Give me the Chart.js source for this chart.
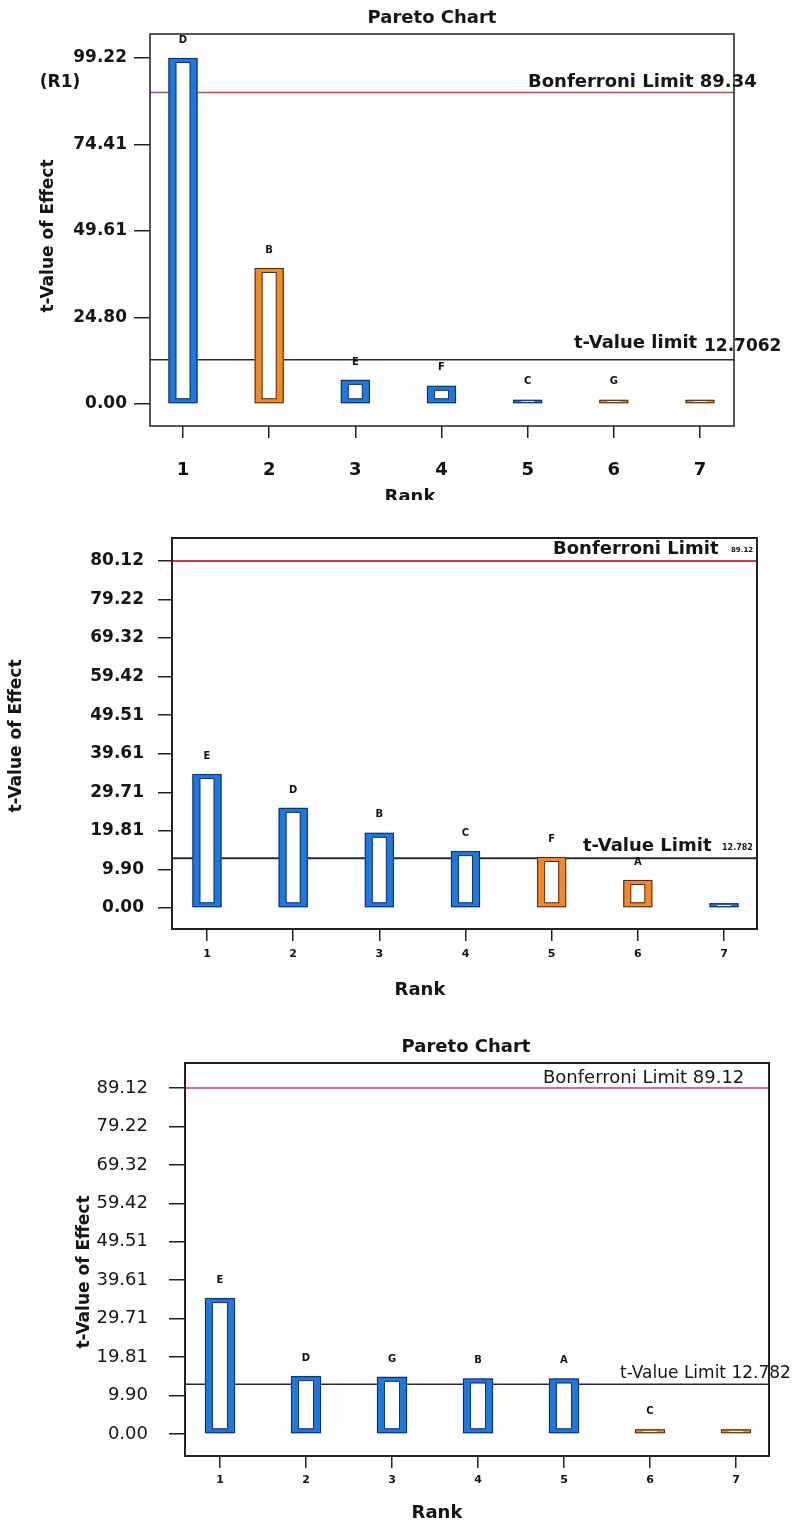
<!DOCTYPE html>
<html>
<head>
<meta charset="utf-8">
<script src="https://cdn.jsdelivr.net/npm/chart.js@4.4.1/dist/chart.umd.min.js"></script>
<style>
  html, body { margin: 0; padding: 0; background: #fff; }
  body { width: 810px; height: 1523px; position: relative; overflow: hidden; }
  canvas { position: absolute; left: 0; }
  #c1 { top: 0; }
  #c2 { top: 500px; }
  #c3 { top: 1015px; }
</style>
</head>
<body>
<canvas id="c1" width="810" height="500"></canvas>
<canvas id="c2" width="810" height="515"></canvas>
<canvas id="c3" width="810" height="508"></canvas>
<script>
// Rank no eixo x (igual nos 3 gráficos)
const ranks = [1, 2, 3, 4, 5, 6, 7];

// Gráfico 1 (R1)
const efeitos1 = ['D', 'B', 'E', 'F', 'C', 'G', ''];
const tval1    = [99.22, 39.0, 6.9, 5.2, 1.2, 1.2, 1.2];
const sinal1   = ['+', '-', '+', '+', '+', '-', '-'];
const yTicks1  = [0, 24.80, 49.61, 74.41, 99.22];
const yLabels1 = ['0.00', '24.80', '49.61', '74.41', '99.22'];
const bonf1 = 89.34, tlim1 = 12.7062;

// Gráfico 2
const efeitos2 = ['E', 'D', 'B', 'C', 'F', 'A', ''];
const tval2    = [34.4, 25.7, 19.3, 14.6, 13.1, 7.2, 1.2];
const sinal2   = ['+', '+', '+', '+', '-', '-', '+'];
const yTicks2  = [0, 9.90, 19.81, 29.71, 39.61, 49.51, 59.42, 69.32, 79.22, 89.12];
const yLabels2 = ['0.00', '9.90', '19.81', '29.71', '39.61', '49.51', '59.42', '69.32', '79.22', '80.12'];
const bonf2 = 89.12, tlim2 = 12.782;

// Gráfico 3
const efeitos3 = ['E', 'D', 'G', 'B', 'A', 'C', ''];
const tval3    = [35.0, 14.9, 14.7, 14.3, 14.3, 1.2, 1.2];
const sinal3   = ['+', '+', '+', '+', '+', '-', '-'];
const yTicks3  = [0, 9.90, 19.81, 29.71, 39.61, 49.51, 59.42, 69.32, 79.22, 89.12];
const yLabels3 = ['0.00', '9.90', '19.81', '29.71', '39.61', '49.51', '59.42', '69.32', '79.22', '89.12'];
const bonf3 = 89.12, tlim3 = 12.782;

const AZUL = '#1f78e0', LARANJA = '#f5891f';
const FONTE = "'DejaVu Sans', 'Liberation Sans', sans-serif";
const BORDA = { left: 8, right: 8, top: 5, bottom: 5 };

// plugin: linhas de limite, contornos, letras, moldura e textos
const enfeites = {
  id: 'enfeites',
  beforeDatasetsDraw(chart, args, o) {
    const { ctx, chartArea: a, scales: { y } } = chart;
    ctx.save();
    const yb = y.getPixelForValue(o.bonf);
    ctx.strokeStyle = o.corBonf; ctx.lineWidth = o.lwBonf;
    ctx.beginPath(); ctx.moveTo(a.left, yb); ctx.lineTo(a.right, yb); ctx.stroke();
    const yt = y.getPixelForValue(o.tlim);
    ctx.strokeStyle = o.corT; ctx.lineWidth = o.lwT;
    ctx.beginPath(); ctx.moveTo(a.left, yt); ctx.lineTo(a.right, yt); ctx.stroke();
    ctx.restore();
  },
  afterDatasetsDraw(chart, args, o) {
    const { ctx, chartArea: a } = chart;
    ctx.save();
    // contorno escuro das barras
    const meta = chart.getDatasetMeta(0);
    ctx.strokeStyle = 'rgba(20,30,55,0.85)';
    ctx.lineWidth = 1;
    meta.data.forEach((bar, i) => {
      const p = bar.getProps(['x', 'y', 'base', 'width'], true);
      const l = p.x - p.width / 2, t = Math.min(p.y, p.base), h = Math.abs(p.base - p.y);
      ctx.strokeRect(l + 0.5, t + 0.5, p.width - 1, h - 1);
      if (h > BORDA.top + BORDA.bottom + 2) {
        ctx.strokeRect(l + BORDA.left - 0.5, t + BORDA.top - 0.5,
                       p.width - BORDA.left - BORDA.right + 1, h - BORDA.top - BORDA.bottom + 1);
      }
      // letra do efeito
      ctx.fillStyle = '#111';
      ctx.font = 'bold 10px ' + FONTE;
      ctx.textAlign = 'center'; ctx.textBaseline = 'middle';
      ctx.fillText(o.letras[i], p.x, t - 18);
    });
    // moldura
    ctx.strokeStyle = '#222'; ctx.lineWidth = o.lwMoldura;
    ctx.strokeRect(a.left, a.top, a.width, a.height);
    // textos
    ctx.fillStyle = '#151515';
    o.textos.forEach(tx => {
      ctx.save();
      ctx.font = tx.f + ' ' + FONTE;
      ctx.textAlign = tx.align || 'left';
      ctx.textBaseline = 'middle';
      ctx.translate(tx.x, tx.y);
      if (tx.rot) ctx.rotate(-Math.PI / 2);
      ctx.fillText(tx.t, 0, 0);
      ctx.restore();
    });
    ctx.restore();
  }
};

function criarPareto(id, d) {
  const cv = document.getElementById(id);
  const H = cv.height;
  return new Chart(cv, {
    type: 'bar',
    data: {
      datasets: [{
        data: ranks.map((r, i) => ({ x: r, y: d.vals[i] })),
        backgroundColor: '#fff',
        borderColor: d.sinais.map(s => s === '+' ? AZUL : LARANJA),
        borderWidth: BORDA,
        borderSkipped: false,
        barThickness: d.barra
      }]
    },
    plugins: [enfeites],
    options: {
      responsive: false,
      animation: false,
      events: [],
      layout: { padding: { top: d.area.top, right: 810 - d.area.right, left: 0, bottom: 0 } },
      plugins: {
        legend: { display: false },
        tooltip: { enabled: false },
        enfeites: {
          bonf: d.bonf, tlim: d.tlim, letras: d.letras, textos: d.textos,
          corBonf: '#cc3b4b', lwBonf: d.lwBonf, corT: '#2a2a2a', lwT: d.lwT,
          lwMoldura: d.lwMoldura
        }
      },
      scales: {
        x: {
          type: 'linear', min: d.xmin, max: d.xmax, offset: false,
          afterFit: s => { s.height = H - d.area.bottom; },
          afterBuildTicks: s => { s.ticks = ranks.map(v => ({ value: v })); },
          grid: { offset: false, drawOnChartArea: false, tickLength: 12, color: '#222', lineWidth: 1.5 },
          border: { display: false },
          ticks: { autoSkip: false, maxRotation: 0, color: '#111', padding: d.xPad,
                   font: { family: FONTE, size: d.xFont, weight: 'bold' },
                   callback: v => String(v) }
        },
        y: {
          type: 'linear', min: d.ymin, max: d.ymax,
          afterFit: s => { s.width = d.area.left; },
          afterBuildTicks: s => { s.ticks = d.yTicks.map(v => ({ value: v })); },
          grid: { drawOnChartArea: false, tickLength: d.yTick, color: '#222', lineWidth: 1.5 },
          border: { display: false },
          ticks: { autoSkip: false, color: '#151515', padding: d.yPad,
                   font: { family: FONTE, size: d.yFont, weight: d.yPeso },
                   callback: (v, i) => d.yLabels[i] }
        }
      }
    }
  });
}

criarPareto('c1', {
  vals: tval1, sinais: sinal1, letras: efeitos1, yTicks: yTicks1, yLabels: yLabels1,
  bonf: bonf1, tlim: tlim1,
  area: { left: 150, right: 734, top: 34, bottom: 426 },
  xmin: 0.617, xmax: 7.395, ymin: -6.31, ymax: 106.1,
  barra: 29, xFont: 18, xPad: 22, yFont: 17, yPeso: 'bold', yTick: 16, yPad: 7,
  lwBonf: 1.5, lwT: 1.5, lwMoldura: 1.5,
  textos: [
    { t: 'Pareto Chart', x: 432, y: 18, f: 'bold 18px', align: 'center' },
    { t: '(R1)', x: 60, y: 83, f: 'bold 17px', align: 'center' },
    { t: 'Bonferroni Limit ' + bonf1.toFixed(2), x: 528, y: 82, f: 'bold 18px' },
    { t: 't-Value limit', x: 574, y: 343, f: 'bold 18px' },
    { t: tlim1.toFixed(4), x: 704, y: 347, f: 'bold 17px' },
    { t: 'Rank', x: 410, y: 497, f: 'bold 18px', align: 'center' },
    { t: 't-Value of Effect', x: 49, y: 236, f: 'bold 17px', align: 'center', rot: true }
  ]
});

criarPareto('c2', {
  vals: tval2, sinais: sinal2, letras: efeitos2, yTicks: yTicks2, yLabels: yLabels2,
  bonf: bonf2, tlim: tlim2,
  area: { left: 172, right: 757, top: 38, bottom: 429 },
  xmin: 0.594, xmax: 7.383, ymin: -5.39, ymax: 95.0,
  barra: 29, xFont: 11, xPad: 7, yFont: 17, yPeso: 'bold', yTick: 14, yPad: 14,
  lwBonf: 2, lwT: 2, lwMoldura: 2,
  textos: [
    { t: 'Bonferroni Limit', x: 553, y: 49, f: 'bold 18px' },
    { t: bonf2.toFixed(2), x: 731, y: 50, f: 'bold 7px' },
    { t: 't-Value Limit', x: 583, y: 346, f: 'bold 18px' },
    { t: tlim2.toFixed(3), x: 722, y: 348, f: 'bold 8px' },
    { t: 'Rank', x: 420, y: 490, f: 'bold 18px', align: 'center' },
    { t: 't-Value of Effect', x: 17, y: 236, f: 'bold 17px', align: 'center', rot: true }
  ]
});

criarPareto('c3', {
  vals: tval3, sinais: sinal3, letras: efeitos3, yTicks: yTicks3, yLabels: yLabels3,
  bonf: bonf3, tlim: tlim3,
  area: { left: 185, right: 769, top: 48, bottom: 441 },
  xmin: 0.593, xmax: 7.384, ymin: -5.67, ymax: 95.57,
  barra: 30, xFont: 11, xPad: 6, yFont: 18, yPeso: 'normal', yTick: 16, yPad: 21,
  lwBonf: 1.5, lwT: 1.5, lwMoldura: 2,
  textos: [
    { t: 'Pareto Chart', x: 466, y: 32, f: 'bold 18px', align: 'center' },
    { t: 'Bonferroni Limit ' + bonf3.toFixed(2), x: 543, y: 63, f: '18px' },
    { t: 't-Value Limit ' + tlim3.toFixed(3), x: 620, y: 359, f: '17px' },
    { t: 'Rank', x: 437, y: 498, f: 'bold 18px', align: 'center' },
    { t: 't-Value of Effect', x: 85, y: 257, f: 'bold 17px', align: 'center', rot: true }
  ]
});
</script>
</body>
</html>
